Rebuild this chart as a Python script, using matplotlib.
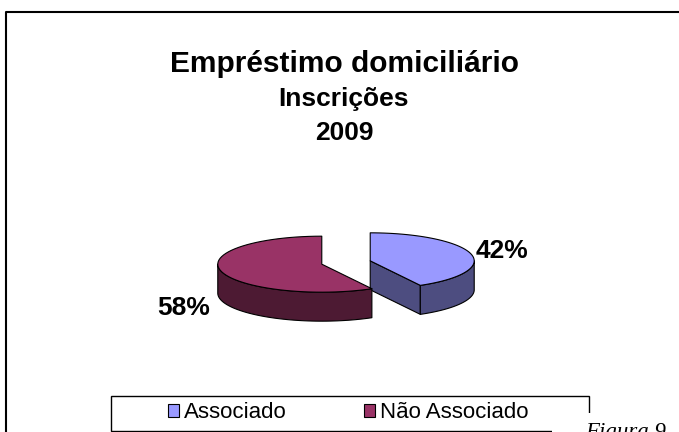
import numpy as np
import matplotlib.pyplot as plt
from matplotlib.patches import Polygon, Rectangle, Patch

# data
labels = ['Associado', 'Não Associado']
shares = [42, 58]
title_lines = ['Empréstimo domiciliário', 'Inscrições', '2009']
top_colors = ['#9999FF', '#993366']
side_colors = ['#4D4D80', '#4D1A33']

plt.rcParams['font.family'] = ['Liberation Sans', 'DejaVu Sans']

fig = plt.figure(figsize=(6.79, 4.32), dpi=100)
ax = fig.add_axes([0, 0, 1, 1])
ax.set_xlim(0, 679)
ax.set_ylim(432, 0)
ax.axis('off')

# chart border (cut by the page on the right/bottom)
ax.plot([6, 6, 700], [500, 12, 12], color='black', lw=1.5)

# title
title_sizes = [21.5, 19, 19]
title_base = [72, 106, 140]
for line, fs, yb in zip(title_lines, title_sizes, title_base):
    ax.text(344, yb, line, ha='center', va='baseline',
            fontsize=fs, fontweight='bold')

# 3d pie geometry
cx, cy = 346, 262.5
rx, ry = 104, 28
depth = 29
explode = 25
label_dy = [-3, 37]


def pt(c, a, dz=0.0):
    return (c[0] + rx * np.sin(a), c[1] - ry * np.cos(a) + dz)


def arc(c, a0, a1, dz=0.0, n=60):
    return [pt(c, a, dz) for a in np.linspace(a0, a1, n)]


total = sum(shares)
start = 0.0
for i, v in enumerate(shares):
    a0 = start
    a1 = start + 2 * np.pi * v / total
    start = a1
    mid = (a0 + a1) / 2
    c = (cx + explode * np.sin(mid), cy - explode * (ry / rx) * np.cos(mid))
    kw = dict(edgecolor='black', lw=0.8, joinstyle='round')

    # radial faces that look toward the viewer
    if np.sin(a1) > 1e-6:
        p = pt(c, a1)
        ax.add_patch(Polygon([c, p, (p[0], p[1] + depth), (c[0], c[1] + depth)],
                             facecolor=side_colors[i], **kw))
    if np.sin(a0) < -1e-6:
        p = pt(c, a0)
        ax.add_patch(Polygon([c, p, (p[0], p[1] + depth), (c[0], c[1] + depth)],
                             facecolor=side_colors[i], **kw))

    # outer wall (front half only)
    s, e = max(a0, np.pi / 2), min(a1, 3 * np.pi / 2)
    if e > s:
        wall = arc(c, s, e) + arc(c, e, s, depth)
        ax.add_patch(Polygon(wall, facecolor=side_colors[i], **kw))

    # top face
    ax.add_patch(Polygon([c] + arc(c, a0, a1), facecolor=top_colors[i], **kw))

    # percentage label
    lp = pt(c, mid)
    right = np.sin(mid) > 0
    ax.text(lp[0] + (5 if right else -11), lp[1] + label_dy[i],
            f'{v}%', ha='left' if right else 'right', va='center',
            fontsize=19, fontweight='bold')

# legend
ax.add_patch(Rectangle((111, 396), 478, 35, facecolor='white',
                       edgecolor='black', lw=1))
handles = [Patch(facecolor=top_colors[i], edgecolor='black', lw=0.8)
           for i in range(len(labels))]
ax.legend(handles, labels, ncol=2, frameon=False, fontsize=16,
          loc='center left', bbox_to_anchor=(168 / 679, 1 - 413 / 432),
          borderpad=0, borderaxespad=0, handlelength=0.5, handleheight=0.5,
          handletextpad=0.2, columnspacing=3.5)

# page text overlapping the chart corner
ax.add_patch(Rectangle((552, 413), 140, 30, facecolor='white',
                       edgecolor='none', zorder=5))
ax.text(585, 438, 'Figura 9', fontsize=16.5, style='italic',
        family='Liberation Serif', va='baseline', zorder=6)

fig.savefig('out.png', dpi=100)
